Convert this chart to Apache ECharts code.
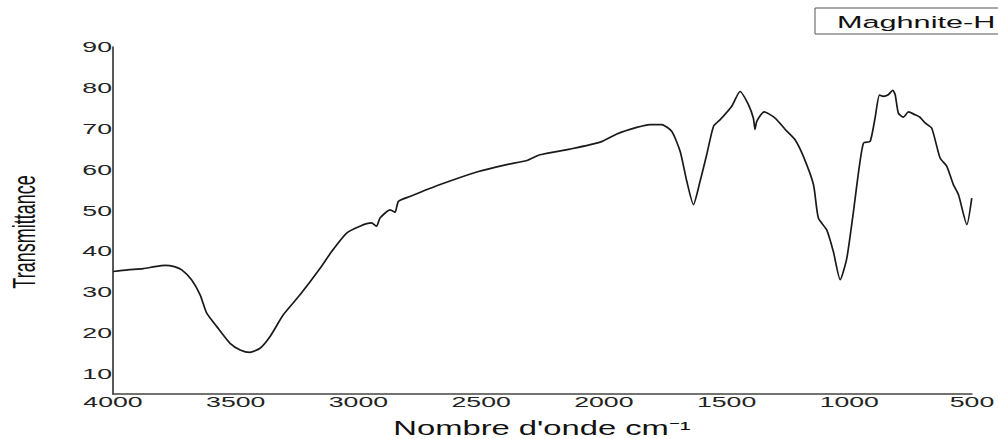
<!DOCTYPE html>
<html>
<head>
<meta charset="utf-8">
<script src="https://cdn.jsdelivr.net/npm/echarts@6/dist/echarts.min.js"></script>
<style>
  html, body { margin: 0; padding: 0; background: #fff; }
  #main { width: 998px; height: 439px; }
</style>
</head>
<body>
<div id="main"></div>
<script>
// spectre IR
var wavenumbers = [4000, 3940, 3877, 3830, 3788, 3750, 3720, 3680, 3645, 3618, 3577, 3523, 3482, 3442, 3401, 3360, 3306, 3238, 3156, 3109, 3048, 2994, 2947, 2926, 2912, 2871, 2851, 2837, 2790, 2667, 2511, 2396, 2314, 2260, 2138, 2015, 1947, 1866, 1812, 1764, 1723, 1689, 1662, 1635, 1608, 1581, 1553, 1526, 1479, 1445, 1411, 1391, 1384, 1377, 1347, 1302, 1261, 1221, 1187, 1146, 1126, 1092, 1065, 1037, 1010, 983, 962, 942, 915, 895, 877, 861, 841, 823, 813, 800, 780, 759, 732, 712, 691, 664, 630, 603, 576, 555, 521, 501];
var transmittance = [35.0, 35.4, 35.7, 36.2, 36.5, 36.2, 35.4, 33.0, 29.3, 24.8, 21.5, 17.4, 15.8, 15.2, 16.2, 19.1, 24.4, 29.3, 35.8, 39.9, 44.4, 46.1, 46.9, 46.1, 48.1, 50.1, 49.5, 52.2, 53.4, 56.3, 59.5, 61.2, 62.2, 63.6, 65.0, 66.7, 68.7, 70.3, 71.0, 71.0, 69.3, 64.4, 57.1, 51.4, 57.1, 63.6, 70.6, 72.2, 75.5, 79.1, 75.9, 72.6, 69.8, 71.8, 74.1, 72.6, 69.8, 67.3, 63.2, 56.3, 48.1, 45.2, 39.9, 33.0, 38.3, 49.7, 59.5, 66.5, 66.9, 72.6, 78.2, 77.9, 78.3, 79.4, 78.3, 73.8, 72.8, 74.1, 73.4, 72.8, 71.4, 70.1, 62.8, 60.8, 56.3, 53.8, 46.5, 53.0];
var xTicks = [4000, 3500, 3000, 2500, 2000, 1500, 1000, 500];
var yTicks = [10, 20, 30, 40, 50, 60, 70, 80, 90];
var seriesName = 'Maghnite-H';

var myChart = echarts.init(document.getElementById('main'), null, { renderer: 'svg' });

var points = wavenumbers.map(function (w, i) { return [w, transmittance[i]]; });

var option = {
    animation: false,
    backgroundColor: '#fff',
    grid: { left: 113, right: 26, top: 47, bottom: 45 },
    xAxis: {
        type: 'value',
        inverse: true,
        min: 500,
        max: 4000,
        interval: 500,
        axisLine: { show: true, lineStyle: { color: '#444', width: 1.5 } },
        axisTick: { show: false },
        axisLabel: { show: false },
        splitLine: { show: false }
    },
    yAxis: {
        type: 'value',
        min: 5,
        max: 90,
        interval: 5,
        axisLine: { show: true, lineStyle: { color: '#222', width: 1.5 } },
        axisTick: { show: false },
        axisLabel: { show: false },
        splitLine: { show: false }
    },
    series: [
        {
            name: seriesName,
            type: 'line',
            data: points,
            showSymbol: false,
            smooth: 0.2,
            lineStyle: { color: '#1a1a1a', width: 1.7 }
        }
    ]
};

myChart.setOption(option);

// les textes de la figure sont étirés en largeur, d'où les scaleX
var font = 'Liberation Sans, Arial, sans-serif';
var graphics = [];

xTicks.forEach(function (t) {
    var p = myChart.convertToPixel({ gridIndex: 0 }, [t, 5]);
    graphics.push({
        type: 'text', x: p[0], y: p[1] + 8, scaleX: 1.72,
        style: { text: String(t), fontSize: 15.5, fontFamily: font, fill: '#222',
                 align: 'center', verticalAlign: 'middle', textAlign: 'center', textVerticalAlign: 'middle' }
    });
});

yTicks.forEach(function (t) {
    var p = myChart.convertToPixel({ gridIndex: 0 }, [4000, t]);
    graphics.push({
        type: 'text', x: p[0] - 1, y: p[1], scaleX: 1.72,
        style: { text: String(t), fontSize: 15.5, fontFamily: font, fill: '#222',
                 align: 'right', verticalAlign: 'middle', textAlign: 'right', textVerticalAlign: 'middle' }
    });
});

// titre axe x
graphics.push({
    type: 'text', x: 542, y: 428, scaleX: 1.68,
    style: { text: "Nombre d'onde cm⁻¹", fontSize: 19.5, fontFamily: font, fill: '#111',
             align: 'center', verticalAlign: 'middle', textAlign: 'center', textVerticalAlign: 'middle' }
});

// titre axe y
graphics.push({
    type: 'text', x: 24, y: 232, rotation: Math.PI / 2, scaleY: 1.7,
    style: { text: 'Transmittance', fontSize: 18, fontFamily: font, fill: '#111',
             align: 'center', verticalAlign: 'middle', textAlign: 'center', textVerticalAlign: 'middle' }
});

// légende, collée au bord droit comme sur l'original
graphics.push({
    type: 'rect', shape: { x: 815, y: 8, width: 260, height: 26 },
    style: { fill: '#fff', stroke: '#555', lineWidth: 1 }
});
graphics.push({
    type: 'text', x: 837, y: 22, scaleX: 1.88,
    style: { text: seriesName, fontSize: 16.3, fontFamily: font, fill: '#111',
             align: 'left', verticalAlign: 'middle', textAlign: 'left', textVerticalAlign: 'middle' }
});

myChart.setOption({ graphic: graphics });
</script>
</body>
</html>
